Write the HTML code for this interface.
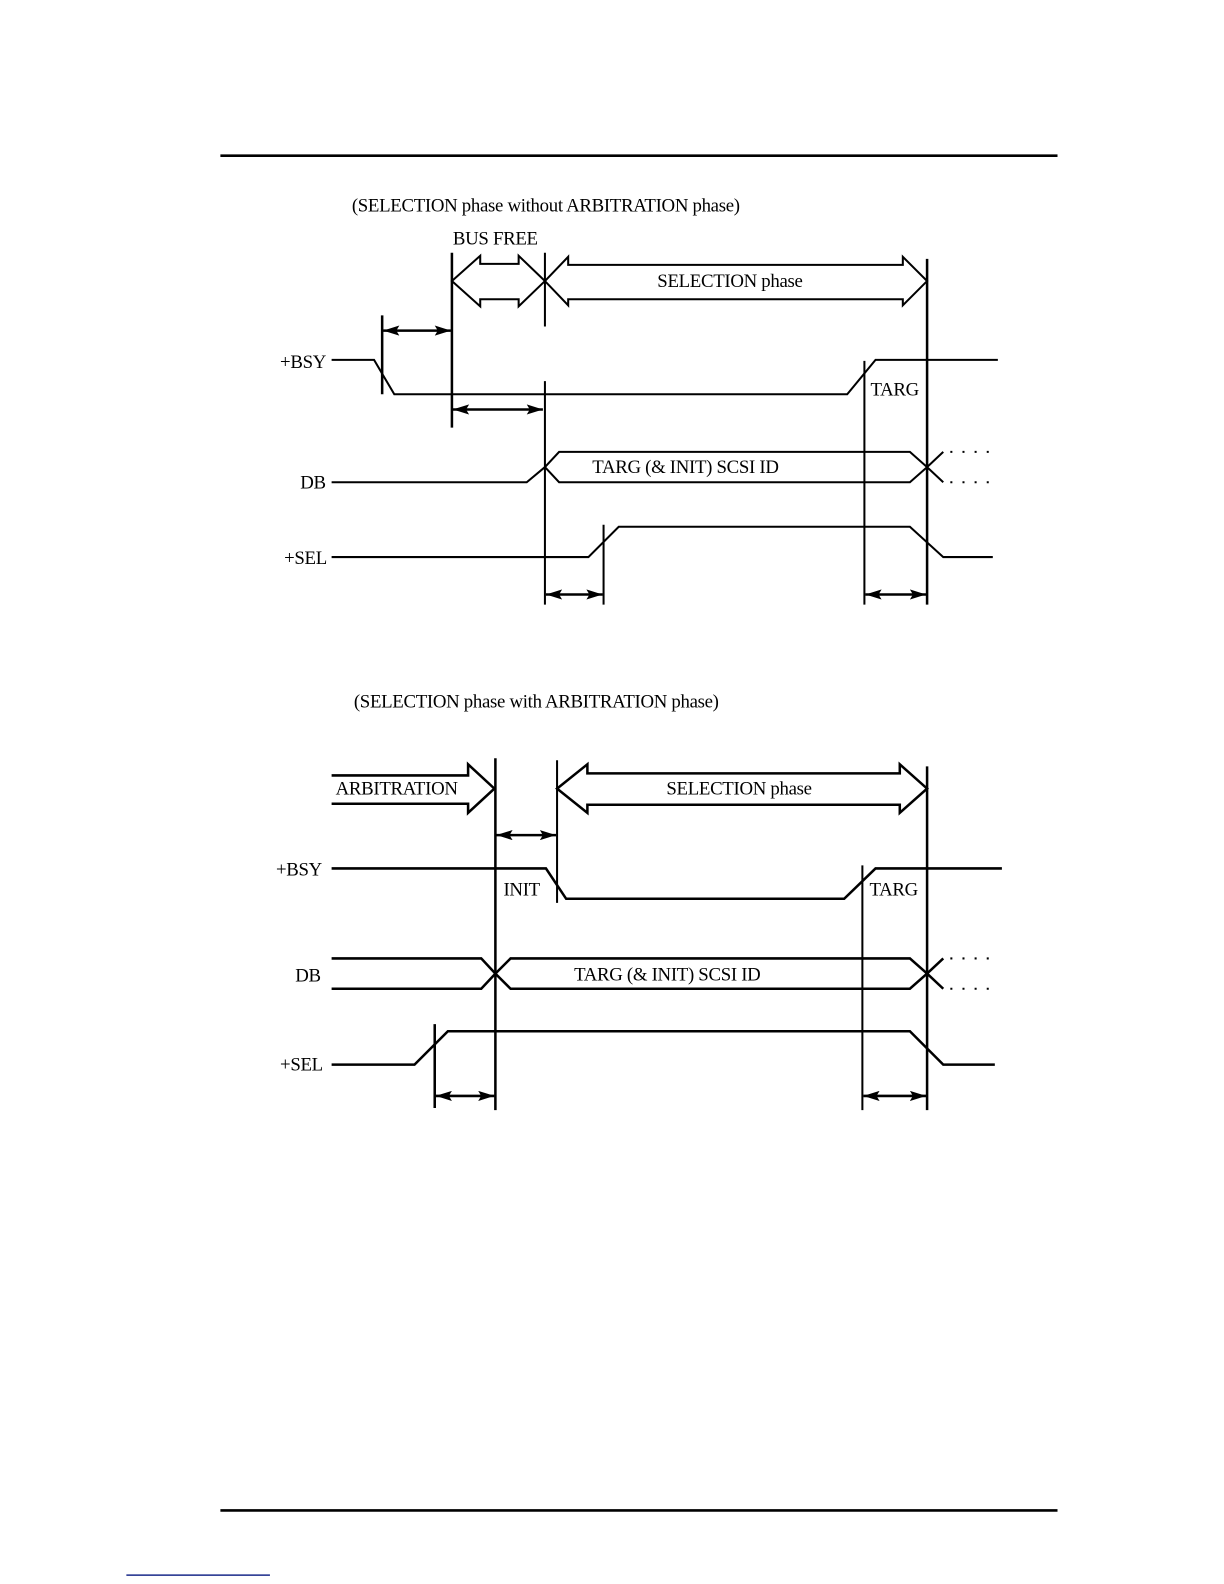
<!DOCTYPE html>
<html><head><meta charset="utf-8"><style>
html,body{margin:0;padding:0;background:#fff;}
svg{display:block;}
text{font-family:"Liberation Serif",serif;font-size:18.6px;fill:#000;letter-spacing:-0.3px;}
</style></head><body>
<svg width="1224" height="1584" viewBox="0 0 1224 1584" xmlns="http://www.w3.org/2000/svg">
<defs>
<marker id="a" viewBox="0 0 16 10" refX="16" refY="5" markerWidth="16" markerHeight="10" orient="auto-start-reverse" markerUnits="userSpaceOnUse"><path d="M0,0 L16,5 L0,10 L3,5 z"/></marker>
</defs>
<g transform="scale(1.011)" stroke="#000" fill="none" stroke-width="2">
<line x1="218" y1="154" x2="1046" y2="154" stroke-width="2.5"/>
<line x1="218" y1="1494" x2="1046" y2="1494" stroke-width="2.5"/>
<line x1="125" y1="1558" x2="267" y2="1558" stroke="#1a2a8a" stroke-width="1.5"/>

<!-- Diagram 1 -->
<g stroke="none"><text x="348" y="209">(SELECTION phase without ARBITRATION phase)</text>
<text x="448" y="242">BUS FREE</text>
<text x="722" y="284" text-anchor="middle">SELECTION phase</text>
<text x="277" y="364">+BSY</text>
<text x="861" y="391">TARG</text>
<text x="297" y="483">DB</text>
<text x="678" y="468" text-anchor="middle">TARG (&amp; INIT) SCSI ID</text>
<text x="281" y="558">+SEL</text></g>

<line x1="447" y1="250" x2="447" y2="423" stroke-width="2.5"/>
<line x1="539" y1="250" x2="539" y2="323"/>
<line x1="539" y1="377" x2="539" y2="598"/>
<line x1="378" y1="312" x2="378" y2="390" stroke-width="2.5"/>
<line x1="917" y1="256" x2="917" y2="598" stroke-width="2.5"/>
<line x1="855" y1="357" x2="855" y2="598"/>
<line x1="597" y1="519" x2="597" y2="598"/>

<path d="M447,278 L475,253 L475,261 L513,261 L513,253 L539,278 L513,303 L513,296 L475,296 L475,303 Z"/>
<path d="M539,278 L562,254 L562,262 L893,262 L893,254 L917,278 L893,302 L893,296 L562,296 L562,302 Z"/>

<line x1="379" y1="327" x2="446" y2="327" marker-start="url(#a)" marker-end="url(#a)" stroke-width="2.5"/>
<line x1="448" y1="405" x2="537" y2="405" marker-start="url(#a)" marker-end="url(#a)" stroke-width="2.5"/>
<line x1="540" y1="588" x2="596" y2="588" marker-start="url(#a)" marker-end="url(#a)" stroke-width="2.5"/>
<line x1="856" y1="588" x2="916" y2="588" marker-start="url(#a)" marker-end="url(#a)" stroke-width="2.5"/>

<polyline points="328,356 370,356 390,390 838,390 866,356 987,356"/>
<polyline points="328,477 521,477 539,462 553,447 900,447 917,462 933,477"/>
<polyline points="539,462 553,477 900,477 917,462 933,447"/>
<line x1="940" y1="447" x2="982" y2="447" stroke-dasharray="2,10"/>
<line x1="940" y1="477" x2="982" y2="477" stroke-dasharray="2,10"/>
<polyline points="328,551 582,551 612,521 900,521 933,551 982,551"/>

<!-- Diagram 2 -->
<g stroke="none"><text x="350" y="700">(SELECTION phase with ARBITRATION phase)</text>
<text x="332" y="786">ARBITRATION</text>
<text x="731" y="786" text-anchor="middle">SELECTION phase</text>
<text x="273" y="866">+BSY</text>
<text x="498" y="886">INIT</text>
<text x="860" y="886">TARG</text>
<text x="292" y="971">DB</text>
<text x="660" y="970" text-anchor="middle">TARG (&amp; INIT) SCSI ID</text>
<text x="277" y="1059">+SEL</text></g>

<path d="M328,767 L463,767 L463,756 L489,780 L463,804 L463,795 L328,795" stroke-width="2.5"/>
<line x1="490" y1="750" x2="490" y2="1098" stroke-width="2.5"/>
<line x1="551" y1="752" x2="551" y2="893"/>
<line x1="917" y1="758" x2="917" y2="1098" stroke-width="2.5"/>
<line x1="853" y1="856" x2="853" y2="1098"/>
<line x1="430" y1="1013" x2="430" y2="1096" stroke-width="2.5"/>
<path d="M551,780 L581,756 L581,765 L890,765 L890,756 L917,780 L890,804 L890,796 L581,796 L581,804 Z" stroke-width="2.5"/>
<line x1="491" y1="826" x2="550" y2="826" marker-start="url(#a)" marker-end="url(#a)" stroke-width="2.5"/>
<line x1="431" y1="1084" x2="489" y2="1084" marker-start="url(#a)" marker-end="url(#a)" stroke-width="2.5"/>
<line x1="854" y1="1084" x2="916" y2="1084" marker-start="url(#a)" marker-end="url(#a)" stroke-width="2.5"/>

<polyline points="328,859 540,859 560,889 835,889 866,859 991,859" stroke-width="2.5"/>
<polyline points="328,948 476,948 490,963 505,978 900,978 917,963 933,948" stroke-width="2.5"/>
<polyline points="328,978 476,978 490,963 505,948 900,948 917,963 933,978" stroke-width="2.5"/>
<line x1="940" y1="948" x2="982" y2="948" stroke-dasharray="2,10"/>
<line x1="940" y1="978" x2="982" y2="978" stroke-dasharray="2,10"/>
<polyline points="328,1053 410,1053 443,1020 900,1020 933,1053 984,1053" stroke-width="2.5"/>
</g>
</svg>
</body></html>
